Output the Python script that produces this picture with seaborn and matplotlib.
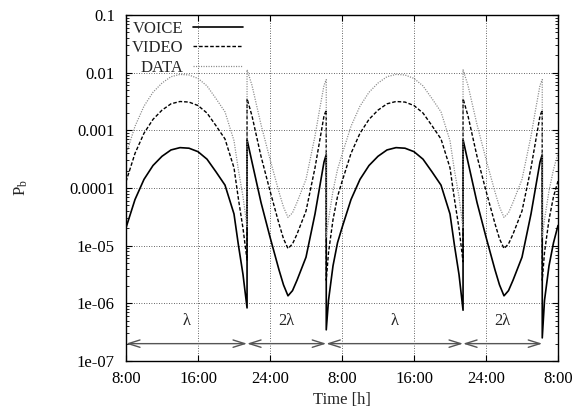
import numpy as np
import pandas as pd
import matplotlib
matplotlib.use("Agg")
import matplotlib.pyplot as plt
import seaborn as sns
from matplotlib.ticker import LogLocator, NullFormatter, FixedLocator

# ---------------- data (time in hours from 8:00 of day 1; values = log10(Pb)) ----
time_h = [0, 1, 2, 3, 4, 5, 6, 7, 8, 9, 10, 11, 12, 12.5, 13, 13.45,
          13.45, 14, 15, 16, 17, 17.5, 18, 18.5, 19, 20, 21, 21.5, 22, 22.25,
          22.25, 22.5, 23, 23.5, 24, 25, 26, 27, 28, 29, 30, 31, 32, 33, 34, 35, 36, 36.5, 37, 37.45,
          37.45, 38, 39, 40, 41, 41.5, 42, 42.5, 43, 44, 45, 45.5, 46, 46.25,
          46.25, 46.5, 47, 47.5, 48]

voice_log_pb = [-4.69, -4.20, -3.85, -3.61, -3.45, -3.34, -3.30, -3.31, -3.37, -3.50, -3.72, -3.95, -4.45, -5.00, -5.50, -6.08,
                -3.16, -3.55, -4.25, -4.85, -5.42, -5.68, -5.87, -5.78, -5.60, -5.20, -4.45, -4.00, -3.55, -3.42,
                -6.46, -5.95, -5.35, -4.95, -4.69, -4.20, -3.85, -3.61, -3.45, -3.34, -3.30, -3.31, -3.37, -3.50, -3.72, -3.95, -4.45, -5.00, -5.50, -6.12,
                -3.16, -3.55, -4.25, -4.85, -5.42, -5.68, -5.87, -5.78, -5.60, -5.20, -4.45, -4.00, -3.55, -3.42,
                -6.60, -5.95, -5.35, -4.95, -4.65]

video_log_pb = [-3.89, -3.40, -3.05, -2.81, -2.65, -2.54, -2.50, -2.51, -2.57, -2.70, -2.92, -3.15, -3.65, -4.20, -4.70, -5.25,
                -2.45, -2.75, -3.45, -4.05, -4.62, -4.88, -5.05, -4.97, -4.80, -4.40, -3.65, -3.20, -2.75, -2.65,
                -5.60, -5.12, -4.55, -4.15, -3.89, -3.40, -3.05, -2.81, -2.65, -2.54, -2.50, -2.51, -2.57, -2.70, -2.92, -3.15, -3.65, -4.20, -4.70, -5.28,
                -2.45, -2.75, -3.45, -4.05, -4.62, -4.88, -5.05, -4.97, -4.80, -4.40, -3.65, -3.20, -2.75, -2.65,
                -5.60, -5.12, -4.55, -4.15, -3.88]

data_log_pb = [-3.42, -2.93, -2.58, -2.34, -2.18, -2.07, -2.03, -2.04, -2.10, -2.23, -2.45, -2.68, -3.18, -3.70, -4.15, -4.67,
               -1.95, -2.22, -2.90, -3.50, -4.07, -4.33, -4.51, -4.43, -4.25, -3.85, -3.10, -2.65, -2.22, -2.12,
               -4.85, -4.55, -4.05, -3.68, -3.42, -2.93, -2.58, -2.34, -2.18, -2.07, -2.03, -2.04, -2.10, -2.23, -2.45, -2.68, -3.18, -3.70, -4.15, -4.70,
               -1.95, -2.22, -2.90, -3.50, -4.07, -4.33, -4.51, -4.43, -4.25, -3.85, -3.10, -2.65, -2.22, -2.12,
               -4.85, -4.55, -4.05, -3.68, -3.40]

series_names = ["VOICE", "VIDEO", "DATA"]

xtick_pos = [0, 8, 16, 24, 32, 40, 48]
xtick_labels = ["8:00", "16:00", "24:00", "8:00", "16:00", "24:00", "8:00"]
ytick_pos = [1e-1, 1e-2, 1e-3, 1e-4, 1e-5, 1e-6, 1e-7]
ytick_labels = ["0.1", "0.01", "0.001", "0.0001", "1e-05", "1e-06", "1e-07"]

segment_bounds = [0, 13.45, 22.25, 37.45, 46.25]
segment_labels = ["λ", "2λ", "λ", "2λ"]
arrow_level = 2.0e-7
label_level = 5.0e-7

# ---------------- style ----------------
sns.set_theme(style="ticks")
plt.rcParams["font.family"] = ["Liberation Serif", "DejaVu Serif"]
plt.rcParams["mathtext.fontset"] = "custom"
plt.rcParams["mathtext.rm"] = "Liberation Serif"
plt.rcParams["mathtext.it"] = "Liberation Serif:italic"
plt.rcParams["font.size"] = 12

W, H = 575, 419
fig = plt.figure(figsize=(W / 100, H / 100), dpi=100)
ax = fig.add_axes([126 / W, 1 - 361 / H, (558 - 126) / W, (361 - 15) / H])

df = pd.DataFrame({
    "time": time_h,
    "VOICE": 10 ** np.array(voice_log_pb),
    "VIDEO": 10 ** np.array(video_log_pb),
    "DATA": 10 ** np.array(data_log_pb),
})

styles = {
    "VOICE": dict(color="black", linewidth=1.2),
    "VIDEO": dict(color="black", linewidth=1.0, dashes=(2.6, 1.4)),
    "DATA": dict(color="#8a8a8a", linewidth=0.9, dashes=(0.9, 1.1)),
}
for name in series_names:
    st = dict(styles[name])
    dashes = st.pop("dashes", None)
    sns.lineplot(data=df, x="time", y=name, ax=ax, sort=False, estimator=None,
                 label=name, **st)
    if dashes is not None:
        ax.lines[-1].set_dashes(dashes)

ax.set_yscale("log")
ax.set_xlim(0, 48)
ax.set_ylim(1e-7, 1e-1)

ax.xaxis.set_major_locator(FixedLocator(xtick_pos))
ax.set_xticklabels(xtick_labels)
ax.yaxis.set_major_locator(FixedLocator(ytick_pos))
ax.set_yticklabels(ytick_labels)
ax.yaxis.set_minor_locator(LogLocator(base=10, subs=np.arange(2, 10), numticks=20))
ax.yaxis.set_minor_formatter(NullFormatter())

ax.tick_params(which="both", direction="in", top=True, right=True, colors="black",
               labelsize=12)
ax.tick_params(which="major", length=4.5, width=0.8, pad=7)
ax.tick_params(which="minor", length=2.3, width=0.6)
ax.tick_params(axis="y", which="major", pad=8)

ax.grid(True, which="major", axis="both", color="#333333", linewidth=0.6,
        linestyle=(0, (1, 2)))
for sp in ax.spines.values():
    sp.set_color("black")
    sp.set_linewidth(1.0)

ax.set_xlabel("Time [h]", fontsize=12, labelpad=4)
ax.set_ylabel(r"$\mathregular{P_b}$", fontsize=12, labelpad=28)

# segment arrows
for i, lab in enumerate(segment_labels):
    a, b = segment_bounds[i], segment_bounds[i + 1]
    ax.annotate("", xy=(b, arrow_level), xytext=(a, arrow_level),
                arrowprops=dict(arrowstyle="<->,head_length=0.7,head_width=0.22",
                                color="#555555", lw=1.0, shrinkA=0, shrinkB=0))
    ax.text((a + b) / 2, label_level, lab, ha="center", va="center", fontsize=12)

leg = ax.legend(loc="upper left", markerfirst=False, frameon=False,
                handlelength=3.0, handletextpad=0.6, labelspacing=0.2,
                borderaxespad=0.2, borderpad=0.15, fontsize=12)

fig.savefig("out.png", dpi=100)
